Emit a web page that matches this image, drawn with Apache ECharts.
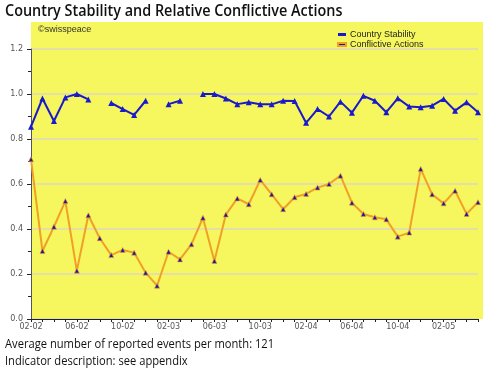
<!DOCTYPE html>
<html>
<head>
<meta charset="utf-8">
<script src="https://cdn.jsdelivr.net/npm/echarts@6/dist/echarts.min.js"></script>
<style>
  html, body { margin: 0; padding: 0; background: #fff; }
  #chart { width: 490px; height: 376px; }
</style>
</head>
<body>
<div id="chart"></div>
<script>
// monthly categories, 02-02 .. 05-05
const months = [];
for (let y = 2; y <= 5; y++) {
  for (let m = 1; m <= 12; m++) {
    if (y === 2 && m < 2) continue;
    if (y === 5 && m > 5) continue;
    months.push(String(m).padStart(2, '0') + '-0' + y);
  }
}

// values, null = no data
const stability = [
  0.855, 0.98, 0.88, 0.985, 1.0, 0.976, null, 0.96, 0.933, 0.907,
  0.97, null, 0.955, 0.97, null, 1.0, 1.0, 0.98, 0.955, 0.963,
  0.954, 0.954, 0.97, 0.969, 0.872, 0.933, 0.9, 0.966, 0.917, 0.992,
  0.97, 0.919, 0.981, 0.944, 0.941, 0.948, 0.978, 0.926, 0.963, 0.919
];
const conflictive = [
  0.71, 0.302, 0.41, 0.524, 0.215, 0.461, 0.359, 0.284, 0.307, 0.295,
  0.206, 0.148, 0.299, 0.265, 0.332, 0.45, 0.258, 0.464, 0.536, 0.51,
  0.618, 0.554, 0.488, 0.541, 0.556, 0.584, 0.6, 0.637, 0.517, 0.467,
  0.452, 0.443, 0.366, 0.384, 0.667, 0.554, 0.514, 0.57, 0.467, 0.519
];

const yellow = '#f6f65e';
const blue = '#1a1acc';
const orange = '#f0a028';

const chart = echarts.init(document.getElementById('chart'));

chart.setOption({
  animation: false,
  backgroundColor: '#fff',
  graphic: [
    // yellow plot background (extends above the 1.2 line)
    { type: 'rect', z: -10, shape: { x: 31, y: 22, width: 452, height: 297 }, style: { fill: yellow } },
    { type: 'text', x: 5, y: 3, scaleX: 0.9, style: { text: 'Country Stability and Relative Conflictive Actions', font: '600 16px "Open Sans"', fill: '#111' } },
    { type: 'text', left: 38, top: 25, style: { text: '©swisspeace', font: '9px "Liberation Sans"', fill: '#333' } },
    { type: 'text', x: 5, y: 339, scaleX: 0.93, style: { text: 'Average number of reported events per month: 121', font: '12px "Open Sans"', fill: '#111' } },
    { type: 'text', x: 5, y: 356, scaleX: 0.93, style: { text: 'Indicator description: see appendix', font: '12px "Open Sans"', fill: '#111' } }
  ],
  legend: {
    orient: 'vertical',
    left: 332,
    top: 25,
    itemWidth: 8,
    itemHeight: 3,
    itemGap: 1,
    icon: 'rect',
    textStyle: { fontSize: 9, fontFamily: 'Liberation Sans', color: '#222', padding: [0, 0, 0, -1] },
    data: ['Country Stability', 'Conflictive Actions']
  },
  grid: { left: 31, right: 12, top: 49, bottom: 57 },
  xAxis: {
    type: 'category',
    data: months,
    boundaryGap: false,
    axisLine: { lineStyle: { color: '#222', width: 1 } },
    axisTick: { interval: 0, length: 3, lineStyle: { color: '#222' } },
    axisLabel: { interval: 3, fontSize: 8, fontFamily: 'DejaVu Sans', color: '#555', margin: 4 }
  },
  yAxis: {
    type: 'value',
    min: 0,
    max: 1.2,
    interval: 0.2,
    axisLine: { show: true, lineStyle: { color: '#555', width: 1 } },
    axisTick: { show: true, length: 4, lineStyle: { color: '#222' } },
    minorTick: { show: true, splitNumber: 2, length: 3, lineStyle: { color: '#222' } },
    splitLine: { lineStyle: { color: '#e4dfa8', width: 2 } },
    axisLabel: { fontSize: 8, fontFamily: 'DejaVu Sans', color: '#555', margin: 8, formatter: v => v.toFixed(1) }
  },
  series: [
    {
      name: 'Country Stability',
      type: 'line',
      data: stability,
      connectNulls: false,
      color: blue,
      lineStyle: { color: blue, width: 2 },
      symbol: 'triangle',
      symbolSize: 6,
      itemStyle: { color: blue }
    },
    {
      name: 'Conflictive Actions',
      type: 'line',
      data: conflictive,
      color: orange,
      lineStyle: { color: orange, width: 2 },
      symbol: 'triangle',
      symbolSize: 5,
      itemStyle: { color: '#1a1a99', borderColor: orange, borderWidth: 0.6 }
    }
  ]
});
</script>
</body>
</html>
